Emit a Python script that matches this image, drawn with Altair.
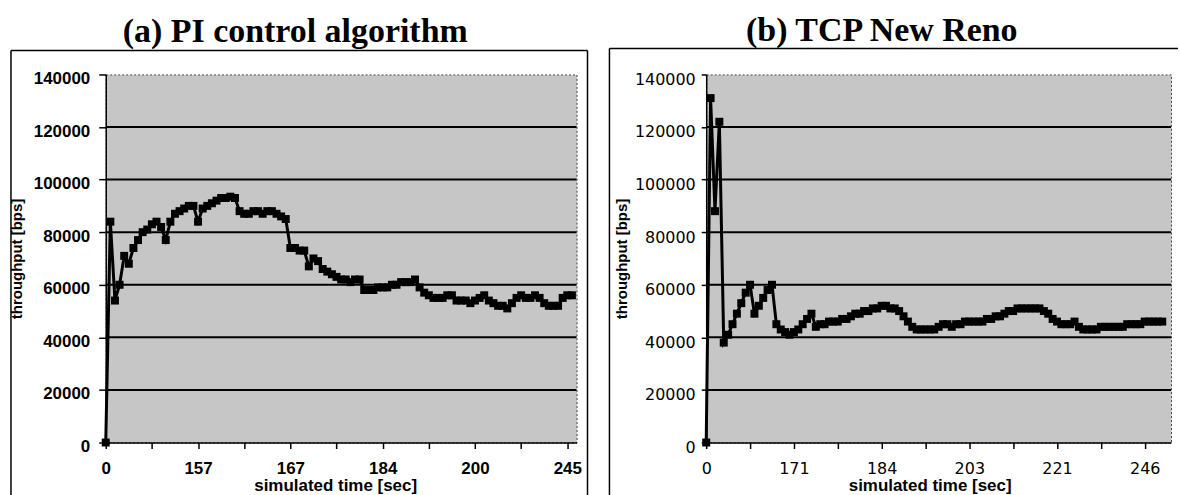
import altair as alt
import pandas as pd

# Throughput samples [bps], one value per logged interval
pi_throughput = [
    0, 84000, 54000, 60000, 71000, 68000, 74000, 77000, 80000, 81000,
    83000, 84000, 82000, 77000, 84000, 87000, 88000, 89000, 90000, 90000,
    84000, 89000, 90000, 91000, 92000, 93000, 93000, 93500, 93000, 88000,
    87000, 87000, 88000, 88000, 87000, 88000, 88000, 87000, 86000, 85000,
    74000, 74000, 73000, 73000, 67000, 70000, 69000, 66000, 65000, 64000,
    63000, 62000, 62000, 61000, 62000, 62000, 58000, 58000, 58000, 59000,
    59000, 59000, 60000, 60000, 61000, 61000, 61000, 62000, 59000, 57000,
    56000, 55000, 55000, 55000, 56000, 56000, 54000, 54000, 54000, 53000,
    54000, 55000, 56000, 54000, 53000, 52000, 52000, 51000, 53000, 55000,
    56000, 55000, 55000, 56000, 55000, 53000, 52000, 52000, 52000, 55000,
    56000, 56000,
]
reno_throughput = [
    0, 131000, 88000, 122000, 38000, 41000, 45000, 49000, 53000, 57000,
    60000, 49000, 52000, 55000, 58000, 60000, 45000, 43000, 42000, 41000,
    42000, 43000, 45000, 47000, 49000, 44000, 45000, 45000, 46000, 46000,
    46000, 47000, 47000, 48000, 49000, 49000, 50000, 50000, 51000, 51000,
    52000, 52000, 51000, 51000, 50000, 48000, 46000, 44000, 43000, 43000,
    43000, 43000, 43000, 44000, 45000, 45000, 44000, 45000, 45000, 46000,
    46000, 46000, 46000, 46000, 47000, 47000, 48000, 48000, 49000, 50000,
    50000, 51000, 51000, 51000, 51000, 51000, 51000, 50000, 49000, 47000,
    46000, 45000, 45000, 45000, 46000, 44000, 43000, 43000, 43000, 43000,
    44000, 44000, 44000, 44000, 44000, 44000, 45000, 45000, 45000, 45000,
    46000, 46000, 46000, 46000, 46000,
]

# Simulated-time labels shown every 20 samples
pi_time_labels = ["0", "157", "167", "184", "200", "245"]
reno_time_labels = ["0", "171", "184", "203", "221", "246"]

y_ticks = [0, 20000, 40000, 60000, 80000, 100000, 120000, 140000]
grid_levels = [20000, 40000, 60000, 80000, 100000, 120000]

PLOT_H = 369
one_row = pd.DataFrame({"k": [0]})


def panel(values, time_labels, title, opts):
    df = pd.DataFrame({"sample": list(range(len(values))), "throughput": values})
    w = opts["width"]
    xs = alt.Scale(domain=[0, opts["x_max"]], nice=False, zero=False)
    ys = alt.Scale(domain=[0, 140000], nice=False)
    js_labels = "[" + ",".join(f"'{s}'" for s in time_labels) + "]"

    x_axis = alt.Axis(
        values=list(range(0, 101, 10)),
        labelExpr=f"datum.value % 20 == 0 ? {js_labels}[datum.value / 20] : ''",
        title="simulated time [sec]",
        titleFont="Liberation Sans", titleFontWeight="bold", titleFontSize=17,
        titleColor="black", titleX=opts["xtitle_x"], titleY=48,
        titleAlign="center", titleBaseline="alphabetic",
        labelFont=opts["font"], labelFontWeight=opts["weight"],
        labelFontSize=opts["fsize"], labelColor="black",
        labelPadding=12, labelFlush=False, labelOverlap=False,
        tickColor="black", tickSize=6, tickWidth=1.5,
        domainColor="black", domainWidth=1.5, grid=False,
    )
    y_axis = alt.Axis(
        values=y_ticks, format="d",
        title="throughput [bps]",
        titleFont="Liberation Sans", titleFontWeight="bold", titleFontSize=15,
        titleColor="black", titleX=opts["ytitle_x"], titleY=PLOT_H / 2,
        titleAlign="center", titleBaseline="middle",
        labelFont=opts["font"], labelFontWeight=opts["weight"],
        labelFontSize=opts["fsize"], labelColor="black",
        labelPadding=opts["ypad"], labelOffset=opts["yoff"],
        tickColor="black", tickSize=opts["ytick"], tickWidth=1.5,
        domainColor="black", domainWidth=1.5, grid=False,
    )

    layers = []
    if opts.get("anchor"):
        # transparent sheet that fixes the page extent
        layers.append(
            alt.Chart(one_row).mark_rect(opacity=0).encode(
                x=alt.value(-105), x2=alt.value(1075),
                y=alt.value(-73), y2=alt.value(422),
            )
        )
    # outer frame of the panel
    fx0, fx1, fy0 = opts["frame"]
    frame = alt.Chart(one_row).mark_rule(color="black", strokeWidth=1.5)
    layers.append(frame.encode(x=alt.value(fx0), y=alt.value(fy0), y2=alt.value(422)))
    layers.append(frame.encode(x=alt.value(fx0), x2=alt.value(fx1), y=alt.value(fy0)))
    if opts.get("right_edge"):
        layers.append(frame.encode(x=alt.value(fx1), y=alt.value(fy0), y2=alt.value(422)))

    grid = alt.Chart(pd.DataFrame({"level": grid_levels})).mark_rule(
        color="black", strokeWidth=2
    ).encode(y=alt.Y("level:Q", scale=ys, axis=y_axis))
    layers.append(grid)

    base = alt.Chart(df).encode(
        x=alt.X("sample:Q", scale=xs, axis=x_axis),
        y=alt.Y("throughput:Q", scale=ys, axis=y_axis),
    )
    layers.append(base.mark_line(color="black", strokeWidth=3))
    layers.append(base.mark_square(size=64, color="black", opacity=1))

    head = alt.Chart(pd.DataFrame({"t": [title]})).mark_text(
        font="Liberation Serif", fontSize=34, fontWeight="bold",
        align="center", baseline="alphabetic", color="black",
    ).encode(x=alt.value(opts["title_x"]), y=alt.value(opts["title_y"]), text="t:N")
    layers.append(head)

    return alt.layer(*layers).properties(width=w, height=PLOT_H)


left = panel(
    pi_throughput, pi_time_labels, "(a) PI control algorithm",
    dict(width=472, x_max=102, xtitle_x=230, ytitle_x=-89,
         font="Liberation Sans", weight="bold", fsize=17,
         ypad=9, yoff=4, ytick=7, frame=(-95, 483, -24),
         right_edge=True, anchor=True, title_x=190, title_y=-33),
)
right = panel(
    reno_throughput, reno_time_labels, "(b) TCP New Reno",
    dict(width=466, x_max=106, xtitle_x=224, ytitle_x=-85,
         font="DejaVu Sans", weight="normal", fsize=16,
         ypad=6, yoff=5, ytick=5, frame=(-97, 473, -26),
         right_edge=False, anchor=False, title_x=176, title_y=-34),
)

chart = (
    alt.hconcat(left, right, spacing=130, bounds="flush")
    .properties(padding=0)
    .configure_view(fill="#c6c6c6", stroke="#444444", strokeWidth=1, strokeDash=[2, 2])
)

chart.save("out.html", embed_options={"renderer": "svg", "actions": False})
